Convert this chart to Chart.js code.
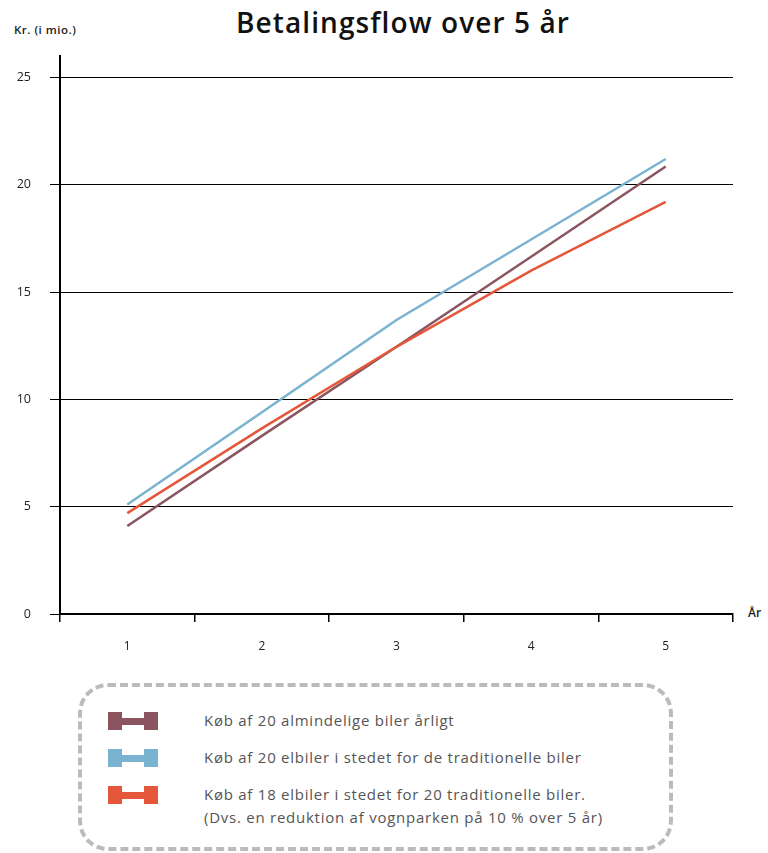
<!DOCTYPE html>
<html lang="da">
<head>
<meta charset="UTF-8">
<title>Betalingsflow over 5 år</title>
<script src="https://cdn.jsdelivr.net/npm/chart.js"></script>
<style>
    body { margin: 0; background: #fff; font-family: "Open Sans", sans-serif; }
    .side { position: relative; width: 768px; height: 853px; overflow: hidden; }
    .titel { position: absolute; left: 0; width: 806px; top: 3px; text-align: center; font-size: 28px; font-weight: 600; letter-spacing: 1.1px; color: #111; margin: 0; }
    .yakse { position: absolute; left: 14px; top: 22px; font-size: 11.5px; font-weight: 600; letter-spacing: 0.5px; color: #222; }
    .xakse { position: absolute; left: 748px; top: 604px; font-size: 12px; font-weight: 600; color: #222; }
    #graf { position: absolute; left: 0; top: 0; }
    .forklaring { position: absolute; left: 78px; top: 683px; width: 587px; height: 160px; border: 4px dashed #bbb; border-radius: 30px; }
    .punkt { position: absolute; left: 26px; font-size: 15px; letter-spacing: 0.75px; color: #555; }
    .punkt .tekst { position: absolute; left: 96px; top: -3px; width: 480px; line-height: 23px; white-space: nowrap; }
    .ikon { width: 50px; height: 18px;
        background: linear-gradient(var(--f), var(--f)) left / 14px 100% no-repeat,
                    linear-gradient(var(--f), var(--f)) right / 14px 100% no-repeat,
                    linear-gradient(var(--f), var(--f)) center / 100% 7px no-repeat; }
</style>
</head>
<body>
<div class="side">
    <h1 class="titel">Betalingsflow over 5 år</h1>
    <div class="yakse">Kr. (i mio.)</div>
    <div class="xakse">År</div>
    <canvas id="graf" width="768" height="670"></canvas>
    <div class="forklaring" id="forklaring"></div>
</div>

<script>
    // data (mio. kr.)
    const aar = ['1', '2', '3', '4', '5'];
    const almindelige = [4.1, 8.3, 12.45, 16.65, 20.85];
    const elbiler20 = [5.1, 9.4, 13.7, 17.45, 21.2];
    const elbiler18 = [4.7, 8.65, 12.45, 16.0, 19.2];

    const navne = [
        'Køb af 20 almindelige biler årligt',
        'Køb af 20 elbiler i stedet for de traditionelle biler',
        'Køb af 18 elbiler i stedet for 20 traditionelle biler.\n(Dvs. en reduktion af vognparken på 10 % over 5 år)'
    ];
    const farver = ['#8a555e', '#7ab3cf', '#e5573a'];
    const serier = [almindelige, elbiler20, elbiler18];

    // forklaring i html
    const boks = document.getElementById('forklaring');
    const toppe = [25, 62, 99];
    navne.forEach((navn, i) => {
        const p = document.createElement('div');
        p.className = 'punkt';
        p.style.top = toppe[i] + 'px';
        p.innerHTML = '<div class="ikon" style="--f:' + farver[i] + '"></div><div class="tekst">' + navn.replace('\n', '<br>') + '</div>';
        boks.appendChild(p);
    });

    new Chart(document.getElementById('graf').getContext('2d'), {
        type: 'line',
        data: {
            labels: aar,
            datasets: serier.map((d, i) => ({
                label: navne[i],
                data: d,
                borderColor: farver[i],
                backgroundColor: farver[i],
                borderWidth: 2.5,
                pointRadius: 0,
                tension: 0,
                fill: false,
                order: [1, 2, 0][i]
            }))
        },
        options: {
            responsive: false,
            devicePixelRatio: 1,
            animation: false,
            layout: { padding: { top: 56, right: 35, bottom: 0, left: 0 } },
            plugins: {
                legend: { display: false },
                tooltip: { enabled: false }
            },
            scales: {
                x: {
                    type: 'category',
                    offset: true,
                    afterFit: s => { s.height = 56; },
                    border: { color: '#000', width: 2 },
                    grid: { drawOnChartArea: false, drawTicks: true, tickLength: 8, color: '#000', lineWidth: 1.5, offset: true },
                    ticks: { padding: 17, color: '#222', font: { family: 'Open Sans', size: 12 } }
                },
                y: {
                    min: 0,
                    max: 26,
                    afterFit: s => { s.width = 60; },
                    afterBuildTicks: s => { s.ticks = s.ticks.filter(t => t.value % 5 === 0); },
                    border: { color: '#000', width: 2 },
                    grid: { color: '#000', lineWidth: 1, tickLength: 10 },
                    ticks: { stepSize: 5, padding: 19, color: '#222', font: { family: 'Open Sans', size: 12.5 } }
                }
            }
        }
    });
</script>
</body>
</html>
